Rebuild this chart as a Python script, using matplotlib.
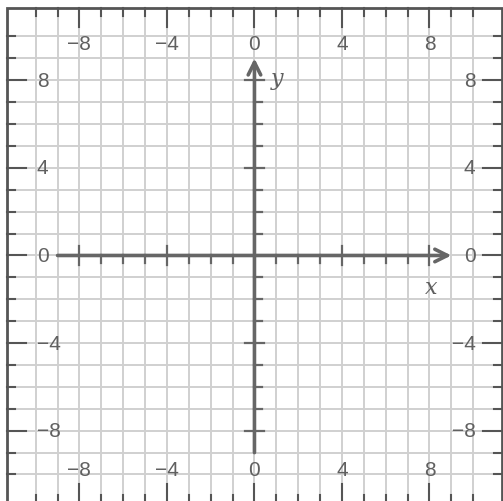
import numpy as np
import matplotlib.pyplot as plt
from matplotlib.patches import Rectangle

# grid / axis settings
grid_min, grid_max = -10, 10
frame_half = 11.3
axis_end = 9
major_ticks = [-8, -4, 0, 4, 8]
tick_labels = ["\u22128", "\u22124", "0", "4", "8"]
x_name_pos = (8.1, -1.45)
y_name_pos = (1.05, 8.1)

frame_col = "#555555"
grid_col = "#d0d0d0"
axis_col = "#666666"
text_col = "#606060"
num_font = "Liberation Sans"

fig = plt.figure(figsize=(5.03, 5.02), dpi=100)
ax = fig.add_axes([0, 0, 1, 1])
ax.set_xlim(-11.63, 11.36)
ax.set_ylim(-11.21, 11.71)
ax.axis("off")

# light unit grid
units = np.arange(grid_min, grid_max + 1)
for u in units:
    ax.plot([u, u], [-frame_half, frame_half], color=grid_col, lw=1.4, zorder=1)
    ax.plot([-frame_half, frame_half], [u, u], color=grid_col, lw=1.4, zorder=1)

# frame
ax.add_patch(Rectangle((-frame_half, -frame_half), 2 * frame_half, 2 * frame_half,
                       fill=False, ec=frame_col, lw=2, zorder=3))

# ticks on the frame (pointing inwards)
for u in units:
    ln = 0.85 if u in major_ticks else 0.36
    lw = 1.5
    ax.plot([u, u], [frame_half, frame_half - ln], color=frame_col, lw=lw, zorder=3)
    ax.plot([u, u], [-frame_half, -frame_half + ln], color=frame_col, lw=lw, zorder=3)
    ax.plot([-frame_half, -frame_half + ln], [u, u], color=frame_col, lw=lw, zorder=3)
    ax.plot([frame_half, frame_half - ln], [u, u], color=frame_col, lw=lw, zorder=3)

# numbers along the edges
for v, t in zip(major_ticks, tick_labels):
    kw = dict(fontsize=15, color=text_col, family=num_font, zorder=4, va="center")
    ax.text(v, 9.7, t, ha="center", **kw)
    ax.text(v, -9.75, t, ha="center", **kw)
    ax.text(-9.95, v, t, ha="left", **kw)
    ax.text(10.1, v, t, ha="right", **kw)

# coordinate axes with arrows
arrow = dict(arrowstyle="->,head_length=0.9,head_width=0.45", color=axis_col,
             lw=2.6, shrinkA=0, shrinkB=0)
ax.annotate("", xy=(axis_end, 0), xytext=(-axis_end, 0), arrowprops=arrow, zorder=5)
ax.annotate("", xy=(0, axis_end), xytext=(0, -axis_end), arrowprops=arrow, zorder=5)

# ticks on the axes
for u in range(-axis_end + 1, axis_end):
    if u == 0:
        continue
    if u in major_ticks:
        ax.plot([u, u], [-0.45, 0.45], color=axis_col, lw=1.6, zorder=5)
        ax.plot([-0.45, 0.45], [u, u], color=axis_col, lw=1.6, zorder=5)
    else:
        ax.plot([u, u], [0, -0.33], color=axis_col, lw=1.6, zorder=5)
        ax.plot([0, 0.33], [u, u], color=axis_col, lw=1.6, zorder=5)

ax.text(*x_name_pos, "x", fontsize=16, style="italic", family="DejaVu Serif",
        color=text_col, ha="center", va="center", zorder=6)
ax.text(*y_name_pos, "y", fontsize=16, style="italic", family="DejaVu Serif",
        color=text_col, ha="center", va="center", zorder=6)

fig.savefig("out.png", dpi=100)
